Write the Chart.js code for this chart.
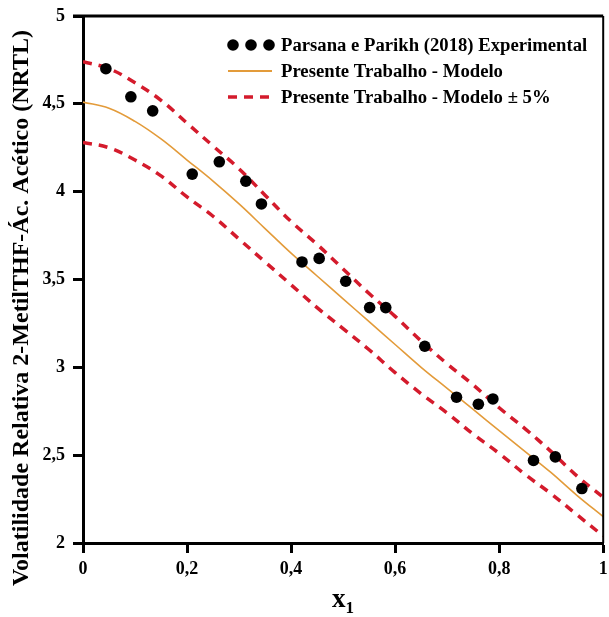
<!DOCTYPE html>
<html>
<head>
<meta charset="utf-8">
<script src="https://cdn.jsdelivr.net/npm/chart.js@4/dist/chart.umd.min.js"></script>
<style>
  html, body { margin: 0; padding: 0; background: #fff; }
  #wrap { width: 609px; height: 617px; position: relative; }
</style>
</head>
<body>
<div id="wrap"><canvas id="chart" width="609" height="617"></canvas></div>
<script>
// dados experimentais (Parsana e Parikh, 2018)
var xExp = [0.044, 0.092, 0.134, 0.210, 0.262, 0.313, 0.343, 0.421, 0.454, 0.505, 0.551, 0.582, 0.657, 0.718, 0.760, 0.788, 0.866, 0.908, 0.959];
var yExp = [4.70, 4.54, 4.46, 4.10, 4.17, 4.06, 3.93, 3.60, 3.62, 3.49, 3.34, 3.34, 3.12, 2.83, 2.79, 2.82, 2.47, 2.49, 2.31];

// modelo NRTL e faixa de +/- 5%
var xModel = [0, 0.05, 0.1, 0.15, 0.2, 0.25, 0.3, 0.35, 0.4, 0.45, 0.5, 0.55, 0.6, 0.65, 0.7, 0.75, 0.8, 0.85, 0.9, 0.95, 1];
var yModel = [4.51, 4.475, 4.40, 4.30, 4.18, 4.06, 3.93, 3.79, 3.65, 3.52, 3.39, 3.26, 3.13, 3.00, 2.88, 2.76, 2.64, 2.52, 2.40, 2.27, 2.15];
var yUpper = [4.74, 4.70, 4.62, 4.52, 4.39, 4.26, 4.13, 3.98, 3.83, 3.70, 3.56, 3.42, 3.29, 3.15, 3.02, 2.90, 2.77, 2.65, 2.52, 2.38, 2.26];
var yLower = [4.28, 4.25, 4.18, 4.09, 3.97, 3.86, 3.73, 3.60, 3.47, 3.34, 3.22, 3.10, 2.97, 2.85, 2.74, 2.62, 2.51, 2.39, 2.28, 2.16, 2.04];

var xTicks = [0, 0.2, 0.4, 0.6, 0.8, 1];
var yTicks = [2, 2.5, 3, 3.5, 4, 4.5, 5];

var yTitle = 'Volatilidade Relativa 2-MetilTHF-\u00c1c. Ac\u00e9tico (NRTL)';
var legendLabels = ['Parsana e Parikh (2018) Experimental', 'Presente Trabalho - Modelo', 'Presente Trabalho - Modelo \u00b1 5%'];

var SERIF = '"Liberation Serif", "Times New Roman", serif';
var ORANGE = '#E39B3A';
var RED = '#D41B2C';

function pts(xs, ys) {
    return xs.map(function (x, i) { return { x: x, y: ys[i] }; });
}

function fmt(v) {
    return (Math.round(v * 10) / 10).toString().replace('.', ',');
}

// moldura, titulos dos eixos e legenda desenhados a mao
var extras = {
    id: 'extras',
    afterDraw: function (chart) {
        var ctx = chart.ctx;
        var a = chart.chartArea;
        ctx.save();
        ctx.strokeStyle = '#000';
        ctx.lineWidth = 3;
        ctx.beginPath();
        ctx.moveTo(a.left - 10, a.top);
        ctx.lineTo(a.right, a.top);
        ctx.stroke();
        ctx.lineWidth = 2;
        ctx.beginPath();
        ctx.moveTo(a.right, a.top);
        ctx.lineTo(a.right, a.bottom);
        ctx.stroke();

        // titulo do eixo y
        ctx.fillStyle = '#000';
        ctx.save();
        ctx.translate(22, 308);
        ctx.rotate(-Math.PI / 2);
        ctx.font = 'bold 24px ' + SERIF;
        ctx.textAlign = 'center';
        ctx.textBaseline = 'middle';
        ctx.fillText(yTitle, 0, 0);
        ctx.restore();

        // titulo x1
        ctx.textBaseline = 'alphabetic';
        ctx.textAlign = 'left';
        ctx.font = 'bold 27px ' + SERIF;
        var cx = (a.left + a.right) / 2;
        var wx = ctx.measureText('x').width;
        ctx.font = 'bold 17px ' + SERIF;
        var w1 = ctx.measureText('1').width;
        var x0 = cx - (wx + w1) / 2;
        ctx.font = 'bold 27px ' + SERIF;
        ctx.fillText('x', x0, 607);
        ctx.font = 'bold 17px ' + SERIF;
        ctx.fillText('1', x0 + wx, 613);

        // legenda
        var lx = 228, tx = 281;
        var rows = [45, 71, 97];
        ctx.font = 'bold 18.7px ' + SERIF;
        ctx.textBaseline = 'middle';
        ctx.fillStyle = '#000';
        [233, 251, 269].forEach(function (px) {
            ctx.beginPath();
            ctx.arc(px, rows[0], 5.8, 0, Math.PI * 2);
            ctx.fill();
        });
        ctx.strokeStyle = ORANGE;
        ctx.lineWidth = 1.8;
        ctx.beginPath();
        ctx.moveTo(lx, rows[1]);
        ctx.lineTo(lx + 44, rows[1]);
        ctx.stroke();
        ctx.strokeStyle = RED;
        ctx.lineWidth = 3.5;
        ctx.setLineDash([9, 7]);
        ctx.beginPath();
        ctx.moveTo(lx, rows[2]);
        ctx.lineTo(lx + 44, rows[2]);
        ctx.stroke();
        ctx.setLineDash([]);
        for (var i = 0; i < 3; i++) {
            ctx.fillText(legendLabels[i], tx, rows[i] + 1);
        }
        ctx.restore();
    }
};

var ctx = document.getElementById('chart').getContext('2d');
new Chart(ctx, {
    type: 'scatter',
    data: {
        datasets: [
            { label: legendLabels[0], data: pts(xExp, yExp), showLine: false, pointRadius: 5.8, pointHoverRadius: 5.8,
              backgroundColor: '#000', borderColor: '#000', borderWidth: 0, order: 0 },
            { label: legendLabels[1], data: pts(xModel, yModel), showLine: true, pointRadius: 0, borderColor: ORANGE,
              borderWidth: 1.6, tension: 0.4, order: 2 },
            { label: legendLabels[2], data: pts(xModel, yUpper), showLine: true, pointRadius: 0, borderColor: RED,
              borderWidth: 3.5, borderDash: [9, 7], tension: 0.4, order: 1 },
            { label: '', data: pts(xModel, yLower), showLine: true, pointRadius: 0, borderColor: RED,
              borderWidth: 3.5, borderDash: [9, 7], tension: 0.4, order: 1 }
        ]
    },
    options: {
        responsive: false,
        animation: false,
        layout: { padding: { left: 0, right: 4, top: 16, bottom: 0 } },
        plugins: { legend: { display: false }, tooltip: { enabled: false } },
        scales: {
            x: {
                type: 'linear', min: 0, max: 1,
                afterBuildTicks: function (s) { s.ticks = xTicks.map(function (v) { return { value: v }; }); },
                afterFit: function (s) { s.height = 74; s.paddingLeft = 0; s.paddingRight = 0; },
                grid: { drawOnChartArea: false, drawTicks: true, tickLength: 10, tickWidth: 3, tickColor: '#000' },
                border: { display: true, color: '#000', width: 3 },
                ticks: { color: '#000', font: { family: SERIF, size: 18, weight: 'bold' }, padding: 6,
                         maxRotation: 0, callback: fmt }
            },
            y: {
                type: 'linear', min: 2, max: 5,
                afterBuildTicks: function (s) { s.ticks = yTicks.map(function (v) { return { value: v }; }); },
                afterFit: function (s) { s.width = 83; s.paddingTop = 0; s.paddingBottom = 0; },
                grid: { drawOnChartArea: false, drawTicks: true, tickLength: 10, tickWidth: 3, tickColor: '#000' },
                border: { display: true, color: '#000', width: 3 },
                ticks: { color: '#000', font: { family: SERIF, size: 18, weight: 'bold' }, padding: 8, callback: fmt }
            }
        }
    },
    plugins: [extras]
});
</script>
</body>
</html>
